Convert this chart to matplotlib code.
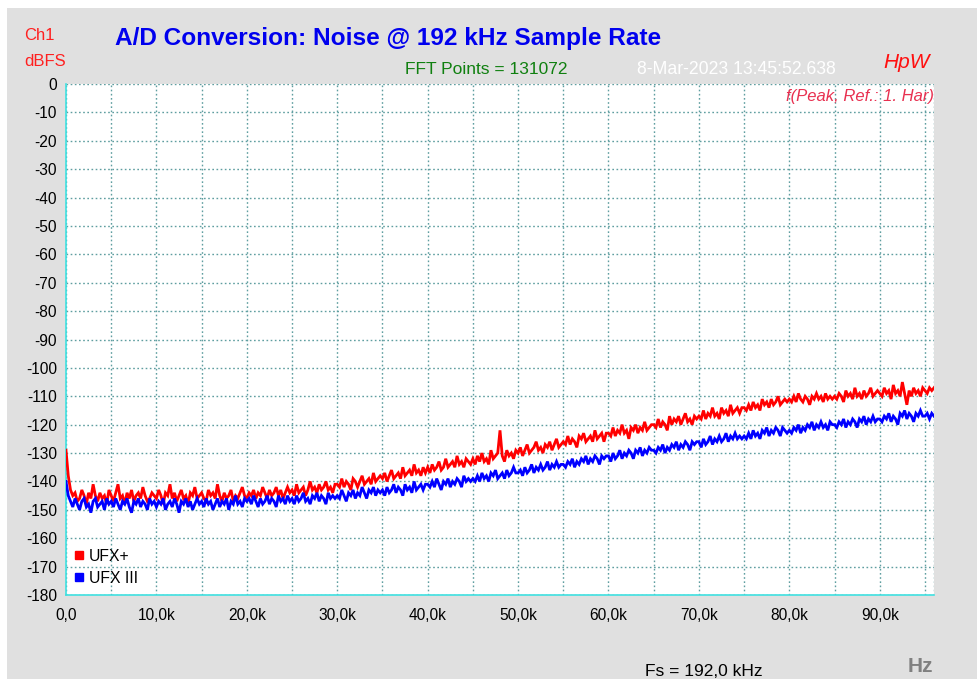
import numpy as np
import matplotlib.pyplot as plt
from matplotlib.lines import Line2D
from matplotlib.patches import Rectangle
from matplotlib.ticker import FuncFormatter, MultipleLocator

plt.rcParams['font.family'] = ['Liberation Sans', 'DejaVu Sans']
plt.rcParams['axes.unicode_minus'] = False

# Spectrum bins, 0.25 kHz apart, 0 .. 96 kHz (one row = 5 kHz)
freq_step = 250.0

ufx_plus = [
    -129, -138, -143, -145, -144, -147, -146, -143, -145, -148, -144, -146, -141, -145, -147, -144, -146, -145, -148, -143,
    -145, -147, -144, -141, -146, -145, -148, -144, -146, -143, -147, -145, -144, -146, -142, -145, -147, -146, -144, -145,
    -146, -143, -145, -148, -144, -145, -141, -146, -144, -147, -145, -143, -146, -145, -148, -144, -145, -142, -146, -145,
    -144, -146, -147, -143, -145, -144, -146, -141, -145, -147, -144, -146, -145, -143, -147, -145, -146, -144, -142, -145,
    -146, -144, -145, -143, -146, -144, -145, -142, -144, -146, -143, -145, -144, -142, -145, -143, -146, -144, -142, -144,
    -143, -145, -141, -144, -143, -142, -145, -143, -140, -143, -142, -144, -141, -143, -142, -140, -143, -142, -144, -141,
    -141, -142, -139, -142, -140, -141, -143, -139, -140, -142, -140, -138, -141, -140, -139, -141, -137, -140, -139, -138,
    -139, -137, -140, -138, -136, -139, -138, -137, -139, -135, -138, -137, -136, -138, -134, -137, -136, -138, -135, -137,
    -135, -137, -134, -136, -135, -133, -136, -135, -132, -135, -134, -133, -135, -131, -134, -133, -135, -132, -133, -134,
    -132, -134, -131, -133, -130, -133, -132, -134, -129, -132, -131, -130, -122, -131, -133, -129, -131, -130, -132, -129,
    -130, -128, -131, -129, -127, -130, -129, -128, -126, -129, -128, -130, -127, -128, -126, -129, -127, -125, -128, -127,
    -126, -127, -124, -127, -125, -126, -128, -124, -125, -123, -126, -125, -124, -126, -122, -125, -124, -123, -126, -123,
    -123, -124, -121, -124, -122, -123, -120, -123, -122, -125, -121, -122, -120, -123, -121, -122, -119, -122, -121, -120,
    -120, -121, -118, -121, -119, -120, -122, -117, -120, -118, -119, -117, -120, -118, -116, -119, -118, -120, -117, -118,
    -117, -118, -115, -118, -116, -117, -114, -117, -116, -118, -114, -116, -115, -117, -113, -116, -115, -114, -116, -114,
    -114, -115, -113, -115, -112, -114, -113, -115, -111, -113, -112, -114, -111, -113, -112, -110, -113, -112, -111, -112,
    -111, -112, -110, -112, -109, -111, -112, -110, -111, -113, -110, -111, -109, -111, -110, -112, -109, -111, -110, -111,
    -110, -111, -109, -110, -112, -108, -110, -109, -111, -107, -110, -109, -111, -108, -110, -109, -107, -110, -109, -108,
    -109, -110, -107, -109, -108, -111, -106, -109, -108, -110, -105, -109, -113, -108, -110, -107, -109, -108, -110, -107,
    -108, -109, -107, -108, -107,
]

ufx_iii = [
    -140, -145, -147, -149, -146, -148, -150, -147, -146, -149, -148, -151, -147, -146, -149, -148, -147, -150, -146, -148,
    -147, -149, -146, -148, -150, -147, -148, -146, -149, -151, -147, -148, -146, -149, -147, -148, -150, -146, -148, -147,
    -149, -147, -148, -146, -150, -148, -147, -149, -146, -148, -151, -147, -148, -146, -149, -147, -150, -148, -146, -148,
    -147, -149, -146, -148, -147, -150, -148, -146, -149, -147, -148, -146, -150, -147, -148, -145, -148, -147, -149, -146,
    -147, -146, -148, -145, -147, -149, -146, -148, -147, -145, -148, -146, -147, -149, -145, -147, -146, -148, -145, -147,
    -146, -148, -145, -147, -146, -144, -147, -146, -148, -145, -146, -144, -147, -145, -146, -148, -144, -146, -145, -146,
    -145, -146, -143, -145, -147, -144, -145, -143, -146, -144, -145, -142, -144, -146, -143, -144, -142, -145, -143, -144,
    -143, -145, -142, -144, -143, -141, -144, -142, -143, -145, -141, -143, -142, -144, -140, -143, -142, -141, -143, -141,
    -141, -142, -140, -142, -139, -141, -143, -140, -141, -139, -142, -140, -141, -139, -140, -142, -138, -140, -139, -140,
    -139, -140, -138, -140, -137, -139, -138, -140, -137, -138, -136, -139, -138, -137, -139, -136, -138, -137, -135, -137,
    -137, -136, -138, -135, -137, -136, -134, -137, -135, -136, -134, -136, -135, -133, -136, -134, -135, -133, -135, -134,
    -134, -135, -133, -134, -132, -135, -133, -134, -132, -133, -131, -134, -132, -133, -131, -132, -134, -131, -132, -131,
    -131, -133, -130, -132, -131, -129, -132, -130, -131, -129, -130, -132, -129, -130, -128, -131, -129, -130, -128, -129,
    -129, -130, -128, -129, -127, -130, -128, -129, -127, -128, -126, -129, -127, -128, -126, -127, -129, -126, -127, -126,
    -126, -128, -125, -127, -126, -124, -127, -125, -126, -124, -126, -125, -123, -126, -124, -125, -123, -125, -124, -125,
    -124, -125, -123, -125, -122, -124, -123, -125, -122, -123, -121, -124, -122, -123, -121, -122, -124, -121, -122, -123,
    -122, -123, -121, -122, -120, -123, -121, -122, -120, -121, -119, -122, -120, -121, -119, -121, -120, -122, -119, -120,
    -120, -121, -119, -120, -118, -121, -119, -120, -118, -119, -121, -118, -119, -117, -120, -118, -119, -117, -119, -118,
    -118, -119, -117, -118, -116, -119, -117, -118, -120, -116, -117, -115, -118, -116, -117, -119, -116, -117, -115, -117,
    -117, -116, -118, -116, -117,
]

series_names = ["UFX+", "UFX III"]
series_colors = ["#ff0000", "#0000ff"]

freqs = np.arange(len(ufx_plus)) * freq_step

fig = plt.figure(figsize=(9.78, 6.79), dpi=100)
fig.patch.set_facecolor("white")
# grey panel behind everything, leaving a thin white margin top/left
fig.patches.append(Rectangle((7 / 978, 0), 1, 1 - 8 / 679, transform=fig.transFigure,
                             facecolor="#e0e0e0", edgecolor="none", zorder=-10))

ax = fig.add_axes([66 / 978, 84 / 679, 868 / 978, 511 / 679])
ax.set_facecolor("white")

for vals, col in zip([ufx_plus, ufx_iii], series_colors):
    ax.plot(freqs[:len(vals)], vals, color=col, lw=2.0, solid_joinstyle="miter", zorder=3)

ax.set_xlim(0, 96000)
ax.set_ylim(-180, 0)
ax.xaxis.set_major_locator(MultipleLocator(10000))
ax.xaxis.set_minor_locator(MultipleLocator(5000))
ax.yaxis.set_major_locator(MultipleLocator(10))
ax.xaxis.set_major_formatter(FuncFormatter(
    lambda v, p: "0,0" if v == 0 else f"{v / 1000:.1f}k".replace(".", ",")))
ax.tick_params(which="both", length=0, labelsize=11.2, colors="black")
ax.tick_params(axis="y", pad=6.5)
ax.tick_params(axis="x", pad=9)

grid_col = "#5f9ea0"
ax.grid(True, which="both", color=grid_col, linestyle=(0, (1.2, 1.8)), lw=1.0, zorder=1)
ax.axvline(96000, color=grid_col, linestyle=(0, (1.2, 1.8)), lw=1.0, zorder=1)
for side in ["top", "right"]:
    ax.spines[side].set_visible(False)
for side in ["left", "bottom"]:
    ax.spines[side].set_color("#40e0e0")
    ax.spines[side].set_linewidth(1.2)

handles = [Line2D([], [], color=c, marker="s", linestyle="none", markersize=5.5)
           for c in series_colors]
ax.legend(handles, series_names, loc="lower left", bbox_to_anchor=(0.0, 0.0),
          frameon=False, fontsize=11.3, handlelength=0.5, handletextpad=0.35,
          labelspacing=0.45, borderaxespad=0.2)

# header / footer annotations
fig.text(24 / 978, 1 - 35 / 679, "Ch1", color="#ff2020", fontsize=12, va="center")
fig.text(24 / 978, 1 - 62 / 679, "dBFS", color="#ff2020", fontsize=12, va="center")
fig.text(388 / 978, 1 - 38 / 679, "A/D Conversion: Noise @ 192 kHz Sample Rate",
         color="#0000ee", fontsize=17.6, fontweight="bold", ha="center", va="center")
fig.text(486 / 978, 1 - 70 / 679, "FFT Points = 131072", color="#108010",
         fontsize=12.5, ha="center", va="center")
fig.text(736 / 978, 1 - 70 / 679, "8-Mar-2023 13:45:52.638", color="white",
         fontsize=12.7, ha="center", va="center")
fig.text(907 / 978, 1 - 63 / 679, "HpW", color="#ff1010", fontsize=15,
         style="italic", ha="center", va="center")
ax.text(1.0, 0.975, "f(Peak, Ref.: 1. Har)", transform=ax.transAxes,
        color="#e83050", fontsize=12, style="italic", ha="right", va="center",
        zorder=4, clip_on=True)
fig.text(704 / 978, 1 - 671 / 679, "Fs = 192,0 kHz", color="black",
         fontsize=12.5, ha="center", va="center")
fig.text(920 / 978, 1 - 667 / 679, "Hz", color="#808080", fontsize=15,
         fontweight="bold", ha="center", va="center")

fig.savefig("out.png", dpi=100)
